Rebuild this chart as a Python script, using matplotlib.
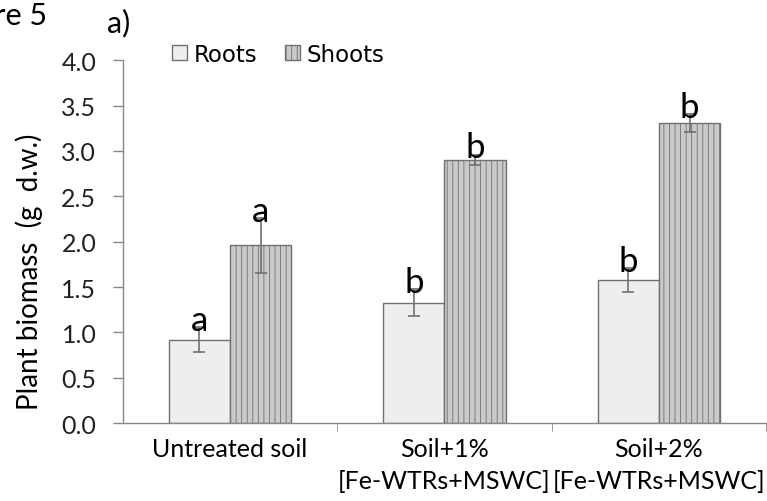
import matplotlib
matplotlib.use('Agg')
import matplotlib.pyplot as plt
import numpy as np

plt.rcParams['hatch.color'] = '#9a9a9a'
plt.rcParams['hatch.linewidth'] = 0.6

# treatments and measured biomass (g dry weight)
treatments = ['Untreated soil', 'Soil+1%\n[Fe-WTRs+MSWC]', 'Soil+2%\n[Fe-WTRs+MSWC]']
roots = [0.92, 1.33, 1.58]
roots_err = [0.14, 0.15, 0.13]
shoots = [1.96, 2.90, 3.31]
shoots_err = [0.30, 0.06, 0.10]
roots_letters = ['a', 'b', 'b']
shoots_letters = ['a', 'b', 'b']

fig = plt.figure(figsize=(7.67, 5.02), dpi=100)
ax = fig.add_axes([0.160, 0.155, 0.839, 0.723])

x = np.arange(len(treatments))
w = 0.285
err_kw = dict(ecolor='#707070', elinewidth=1.2, capsize=4, capthick=1.2)

ax.bar(x - w / 2, roots, w, yerr=roots_err, color='#eeeeee',
       edgecolor='#707070', linewidth=1.0, label='Roots', error_kw=err_kw, zorder=2)
ax.bar(x + w / 2, shoots, w, yerr=shoots_err, color='#cacaca',
       edgecolor='#707070', linewidth=1.0, hatch='|||', label='Shoots',
       error_kw=err_kw, zorder=2)

for i in range(len(treatments)):
    ax.text(x[i] - w / 2, roots[i] + roots_err[i] + 0.08, roots_letters[i],
            ha='center', va='center', fontsize=25, family='Lato', zorder=3)
    ax.text(x[i] + w / 2, shoots[i] + shoots_err[i] + 0.08, shoots_letters[i],
            ha='center', va='center', fontsize=25, family='Lato', zorder=3)

ax.set_xlim(-0.5, 2.5)
ax.set_ylim(0, 4.0)
ax.set_yticks(np.arange(0, 4.01, 0.5))
ax.set_yticklabels([f'{v:.1f}' for v in np.arange(0, 4.01, 0.5)],
                   fontsize=18, family='Lato', color='#222222')
ax.set_xticks(x)
ax.set_xticklabels(treatments, fontsize=18, family='Lato', linespacing=1.45)
ax.tick_params(axis='x', length=0, pad=10)
ax.set_xticks([0.5, 1.5, 2.5], minor=True)
ax.tick_params(axis='x', which='minor', length=6, color='#888888')
ax.tick_params(axis='y', length=7, color='#888888', width=1.0, pad=12)

for s in ['top', 'right']:
    ax.spines[s].set_visible(False)
for s in ['left', 'bottom']:
    ax.spines[s].set_color('#888888')
    ax.spines[s].set_linewidth(1.0)

ax.set_ylabel('Plant biomass  (g  d.w.)', fontsize=20, family='Lato')
ax.yaxis.set_label_coords(-0.124, 0.42)

leg = ax.legend(loc='upper left', bbox_to_anchor=(0.045, 1.105), ncol=2, frameon=False,
                prop={'family': 'DejaVu Sans', 'size': 16.5}, handlelength=0.65,
                handleheight=0.65, handletextpad=0.3, columnspacing=1.2)

fig.text(0.14, 0.935, 'a)', fontsize=22, family='Lato')
fig.text(0.062, 0.95, 'Figure 5', fontsize=22, family='Lato', ha='right')

fig.savefig('out.png', dpi=100)
